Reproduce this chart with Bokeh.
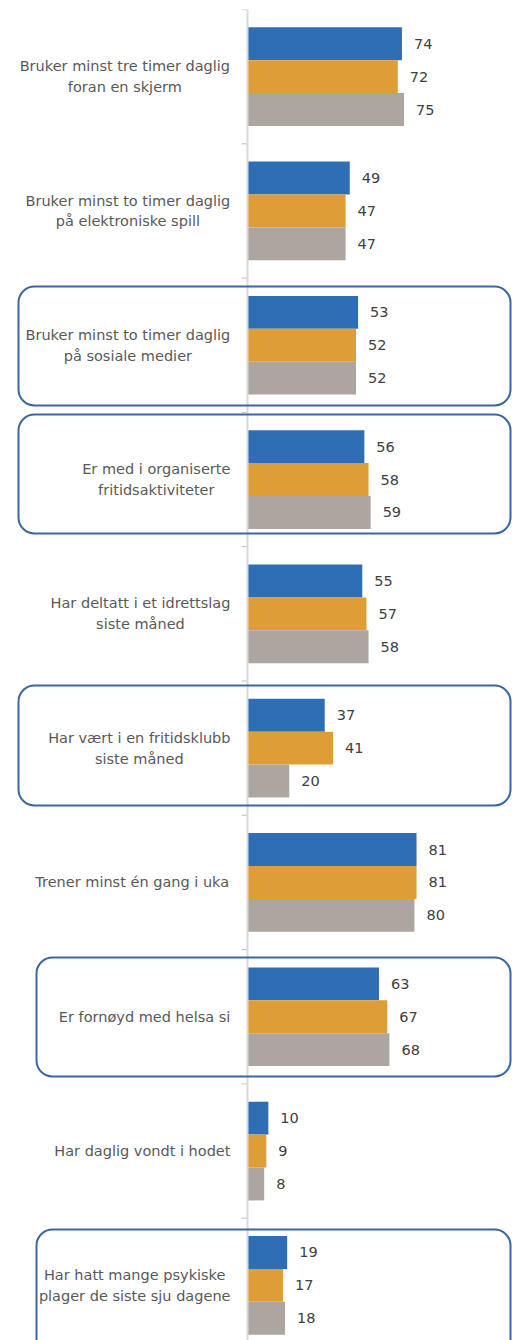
from bokeh.plotting import figure
from bokeh.models import ColumnDataSource, Range1d, BoxAnnotation, Span
from bokeh.core.properties import value
from bokeh.embed import file_html
from bokeh.resources import INLINE

# ---------------- data ----------------
categories = [
    "Bruker minst tre timer daglig\nforan en skjerm",
    "Bruker minst to timer daglig\npå elektroniske spill",
    "Bruker minst to timer daglig\npå sosiale medier",
    "Er med i organiserte\nfritidsaktiviteter",
    "Har deltatt i et idrettslag\nsiste måned",
    "Har vært i en fritidsklubb\nsiste måned",
    "Trener minst én gang i uka",
    "Er fornøyd med helsa si",
    "Har daglig vondt i hodet",
    "Har hatt mange psykiske\nplager de siste sju dagene",
]
series_blue = [74, 49, 53, 56, 55, 37, 81, 63, 10, 19]
series_orange = [72, 47, 52, 58, 57, 41, 81, 67, 9, 17]
series_gray = [75, 47, 52, 59, 58, 20, 80, 68, 8, 18]
highlighted = [2, 3, 5, 7, 9]

# ---------------- layout / style ----------------
W, H = 512, 1340
PX_PER_UNIT = 2.087          # horizontal scale (px per value unit)
ZERO_PX = 247                # x position of value 0 inside figure
CAT_PX = 134.3               # px per category
TOP_PX = 9                   # frame top inside figure
N = len(categories)
FONT = "DejaVu Sans"
FS = 14.5
COLORS = ["#2E6EB5", "#DF9D37", "#ADA59F"]
BOX_COLOR = "#3A679C"

x_start = -ZERO_PX / PX_PER_UNIT
x_end = (W - ZERO_PX) / PX_PER_UNIT
frame_h = H - TOP_PX
y_end = float(N)
y_start = y_end - frame_h / CAT_PX

def ypx_to_data(py):   # py: px from frame top
    return y_end - py / CAT_PX

def xpx_to_data(px):   # px from figure left
    return (px - ZERO_PX) / PX_PER_UNIT

# DejaVu Sans advance widths (em)
CW = {" ": 0.318, "a": 0.613, "b": 0.635, "c": 0.550, "d": 0.635, "e": 0.615,
      "f": 0.352, "g": 0.635, "h": 0.634, "i": 0.278, "j": 0.278, "k": 0.579,
      "l": 0.278, "m": 0.974, "n": 0.634, "o": 0.612, "p": 0.635, "r": 0.411,
      "s": 0.521, "t": 0.392, "u": 0.634, "v": 0.592, "y": 0.592, "æ": 0.979,
      "ø": 0.612, "å": 0.613, "é": 0.615, "B": 0.686, "E": 0.632, "H": 0.752,
      "T": 0.611}

def text_w(s):
    return max(sum(CW.get(c, 0.6) for c in line) for line in s.split("\n")) * FS

p = figure(width=W, height=H, x_range=Range1d(x_start, x_end),
           y_range=Range1d(y_start, y_end), output_backend="svg",
           toolbar_location=None, x_axis_location=None, y_axis_location=None,
           min_border=0, min_border_top=TOP_PX, min_border_left=0,
           min_border_right=0, min_border_bottom=0,
           outline_line_color=None, background_fill_color="white",
           border_fill_color="white")
p.grid.visible = False

centers = [N - i - 0.5 for i in range(N)]
pitch = 0.245
for k, (vals, col) in enumerate(zip([series_blue, series_orange, series_gray], COLORS)):
    ys = [c + (1 - k) * pitch for c in centers]
    src = ColumnDataSource(dict(y=ys, v=vals, t=[str(v) for v in vals]))
    p.hbar(y="y", left=0, right="v", height=pitch, source=src,
           fill_color=col, line_color=None)
    p.text(x="v", y="y", text="t", source=src, x_offset=12,
           text_align="left", text_baseline="middle",
           text_font=value(FONT), text_font_size=f"{FS}px", text_color="#404040")

# axis line and ticks
p.add_layout(Span(location=0, dimension="height", line_color="#D9D9D9", line_width=2))
bounds = [float(N - i) for i in range(N)]
p.segment(x0=[-6 / PX_PER_UNIT] * N, x1=[0] * N, y0=bounds, y1=bounds,
          line_color="#BFBFBF", line_width=1)

# category labels
lab_src = ColumnDataSource(dict(
    x=[0] * N, y=centers, t=categories,
    xo=[-(17 + text_w(c) / 2) for c in categories]))
p.text(x="x", y="y", text="t", source=lab_src, x_offset="xo",
       text_align="center", text_baseline="middle", text_line_height=1.3,
       text_font=value(FONT), text_font_size=f"{FS}px", text_color="#595959")

# rounded highlight frames: (left px, top offset px from category top, height px)
frame_style = {2: (18, 8.4, 119), 3: (18, 2.1, 119), 5: (18, 4.5, 120),
               7: (36, 7.9, 119), 9: (36, 11.3, 140)}
for ci in highlighted:
    lx, toff, hh = frame_style[ci]
    top_px = ci * CAT_PX + toff
    p.add_layout(BoxAnnotation(
        left=xpx_to_data(lx), right=xpx_to_data(W - 2),
        top=ypx_to_data(top_px), bottom=ypx_to_data(top_px + hh),
        fill_color=None, fill_alpha=0, line_color=BOX_COLOR, line_alpha=1.0,
        line_width=2, border_radius=16, level="overlay"))

open("out.html", "w").write(file_html(p, INLINE))
